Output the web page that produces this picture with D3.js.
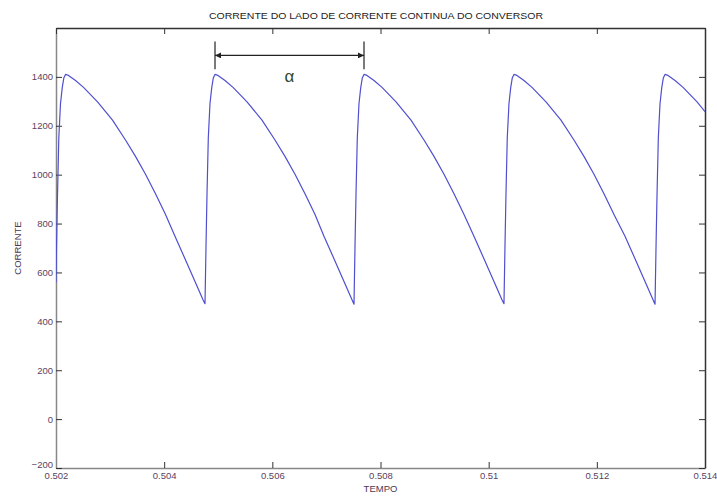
<!DOCTYPE html>
<html>
<head>
<meta charset="utf-8">
<script src="https://cdn.jsdelivr.net/npm/d3@7"></script>
<style>
  body { margin: 0; background: #fff; }
  svg { display: block; font-family: "Liberation Sans", Arial, sans-serif; }
</style>
</head>
<body>
<div id="chart"></div>
<script>
// tempo (s) e corrente (A)
const tempo = [
  0.502000, 0.502009, 0.502028, 0.502052, 0.502083, 0.502115, 0.502144, 0.502176, 0.502231, 0.502361, 0.502509,
  0.502768, 0.503045, 0.503285, 0.503470, 0.503655, 0.503840, 0.504025, 0.504200, 0.504385, 0.504570, 0.504718, 0.504755,
  0.504773, 0.504792, 0.504816, 0.504847, 0.504879, 0.504908, 0.504940, 0.504995, 0.505125, 0.505273,
  0.505532, 0.505809, 0.506049, 0.506234, 0.506419, 0.506604, 0.506789, 0.506955, 0.507140, 0.507325, 0.507473, 0.507510,
  0.507528, 0.507547, 0.507571, 0.507602, 0.507634, 0.507663, 0.507695, 0.507750, 0.507880, 0.508028,
  0.508287, 0.508564, 0.508804, 0.508989, 0.509174, 0.509359, 0.509544, 0.509728, 0.509913, 0.510098, 0.510246, 0.510283,
  0.510301, 0.510320, 0.510344, 0.510375, 0.510407, 0.510436, 0.510468, 0.510523, 0.510653, 0.510801,
  0.511060, 0.511337, 0.511577, 0.511762, 0.511947, 0.512132, 0.512317, 0.512521, 0.512706, 0.512891, 0.513039, 0.513076,
  0.513094, 0.513113, 0.513137, 0.513168, 0.513200, 0.513229, 0.513261, 0.513316, 0.513446, 0.513594,
  0.513853, 0.514000
];
const corrente = [
  560, 700, 920, 1150, 1290, 1355, 1395, 1410, 1406, 1385, 1357,
  1298, 1223, 1142, 1075, 1002, 922, 837, 748, 656, 563, 488, 472,
  700, 920, 1150, 1290, 1355, 1395, 1410, 1406, 1385, 1357,
  1298, 1223, 1142, 1075, 1002, 922, 837, 748, 656, 563, 488, 470,
  700, 920, 1150, 1290, 1355, 1395, 1410, 1406, 1385, 1357,
  1298, 1223, 1142, 1075, 1002, 922, 837, 748, 656, 563, 488, 472,
  700, 920, 1150, 1290, 1355, 1395, 1410, 1406, 1385, 1357,
  1298, 1223, 1142, 1075, 1002, 922, 837, 748, 656, 563, 488, 470,
  700, 920, 1150, 1290, 1355, 1395, 1410, 1406, 1385, 1357,
  1298, 1258
];

const xTicks = [0.502, 0.504, 0.506, 0.508, 0.51, 0.512, 0.514];
const yTicks = [-200, 0, 200, 400, 600, 800, 1000, 1200, 1400];
const xDomain = [0.502, 0.514];
const yDomain = [-200, 1600];

// cota do angulo alfa (entre dois picos)
const alfaInicio = 0.50494;
const alfaFim = 0.507695;
const alfaNivel = 1488;
const alfaTopo = 1545;
const alfaBase = 1431;
const alfaTexto = 1380;

const width = 717, height = 496;
const margin = { top: 28, right: 12, bottom: 28, left: 56 };
const innerW = width - margin.left - margin.right;
const innerH = height - margin.top - margin.bottom;

const svg = d3.select('#chart').append('svg')
  .attr('width', width)
  .attr('height', height);

const g = svg.append('g')
  .attr('transform', `translate(${margin.left},${margin.top})`);

const x = d3.scaleLinear().domain(xDomain).range([0, innerW]);
const y = d3.scaleLinear().domain(yDomain).range([innerH, 0]);

svg.append('defs').append('clipPath').attr('id', 'clip')
  .append('rect').attr('width', innerW).attr('height', innerH);

svg.append('defs').append('marker')
  .attr('id', 'seta')
  .attr('viewBox', '0 0 10 10')
  .attr('refX', 10).attr('refY', 5)
  .attr('markerWidth', 7).attr('markerHeight', 6)
  .attr('markerUnits', 'userSpaceOnUse')
  .attr('orient', 'auto-start-reverse')
  .append('path').attr('d', 'M0,0 L10,5 L0,10 Z').attr('fill', '#222');

// eixos (ticks para dentro, estilo matlab)
const fmt = d3.format('~g');
const tickLabelColor = '#5a3f62';

function styleAxis(sel, lineColor) {
  sel.select('.domain').attr('stroke', lineColor).attr('stroke-width', 1.5);
  sel.selectAll('.tick line').attr('stroke', '#333');
  sel.selectAll('.tick text').attr('fill', tickLabelColor).attr('font-size', 9.5);
}

const xAxisG = g.append('g').attr('transform', `translate(0,${innerH})`)
  .call(d3.axisBottom(x).tickValues(xTicks).tickFormat(fmt).tickSizeInner(-6).tickSizeOuter(0).tickPadding(4));
styleAxis(xAxisG, '#888');

const yAxisG = g.append('g')
  .call(d3.axisLeft(y).tickValues(yTicks).tickFormat(fmt).tickSizeInner(-6).tickSizeOuter(0).tickPadding(3));
styleAxis(yAxisG, '#888');
// -200 fica um pouco acima, como no original
yAxisG.selectAll('.tick text').filter(d => d === -200).attr('dy', '-0.05em');

const topG = g.append('g')
  .call(d3.axisTop(x).tickValues(xTicks).tickFormat('').tickSizeInner(-6).tickSizeOuter(0));
styleAxis(topG, '#333');

const rightG = g.append('g').attr('transform', `translate(${innerW},0)`)
  .call(d3.axisRight(y).tickValues(yTicks).tickFormat('').tickSizeInner(-6).tickSizeOuter(0));
styleAxis(rightG, '#333');

// curva
const line = d3.line()
  .x((d, i) => x(tempo[i]))
  .y(d => y(d));

g.append('path')
  .datum(corrente)
  .attr('clip-path', 'url(#clip)')
  .attr('fill', 'none')
  .attr('stroke', '#4f4fd0')
  .attr('stroke-width', 1.2)
  .attr('stroke-linejoin', 'round')
  .attr('d', line);

// cota alfa
[alfaInicio, alfaFim].forEach(t => {
  g.append('line')
    .attr('x1', x(t)).attr('x2', x(t))
    .attr('y1', y(alfaTopo)).attr('y2', y(alfaBase))
    .attr('stroke', '#222').attr('stroke-width', 1.2);
});
g.append('line')
  .attr('x1', x(alfaInicio)).attr('x2', x(alfaFim))
  .attr('y1', y(alfaNivel)).attr('y2', y(alfaNivel))
  .attr('stroke', '#222').attr('stroke-width', 1.2)
  .attr('marker-start', 'url(#seta)')
  .attr('marker-end', 'url(#seta)');
g.append('text')
  .attr('x', x((alfaInicio + alfaFim) / 2))
  .attr('y', y(alfaTexto))
  .attr('text-anchor', 'middle')
  .attr('font-size', 17)
  .attr('fill', '#2d4a30')
  .text('α');

// titulos
svg.append('text')
  .attr('x', 376).attr('y', 19)
  .attr('text-anchor', 'middle')
  .attr('font-size', 9)
  .attr('fill', '#222')
  .attr('textLength', 334)
  .attr('lengthAdjust', 'spacingAndGlyphs')
  .text('CORRENTE DO LADO DE CORRENTE CONTINUA DO CONVERSOR');

svg.append('text')
  .attr('x', margin.left + innerW / 2).attr('y', 492)
  .attr('text-anchor', 'middle')
  .attr('font-size', 9.5)
  .attr('fill', '#4a3a55')
  .text('TEMPO');

svg.append('text')
  .attr('transform', `translate(21,${margin.top + innerH / 2}) rotate(-90)`)
  .attr('text-anchor', 'middle')
  .attr('font-size', 9.5)
  .attr('fill', '#4a3a55')
  .text('CORRENTE');
</script>
</body>
</html>
